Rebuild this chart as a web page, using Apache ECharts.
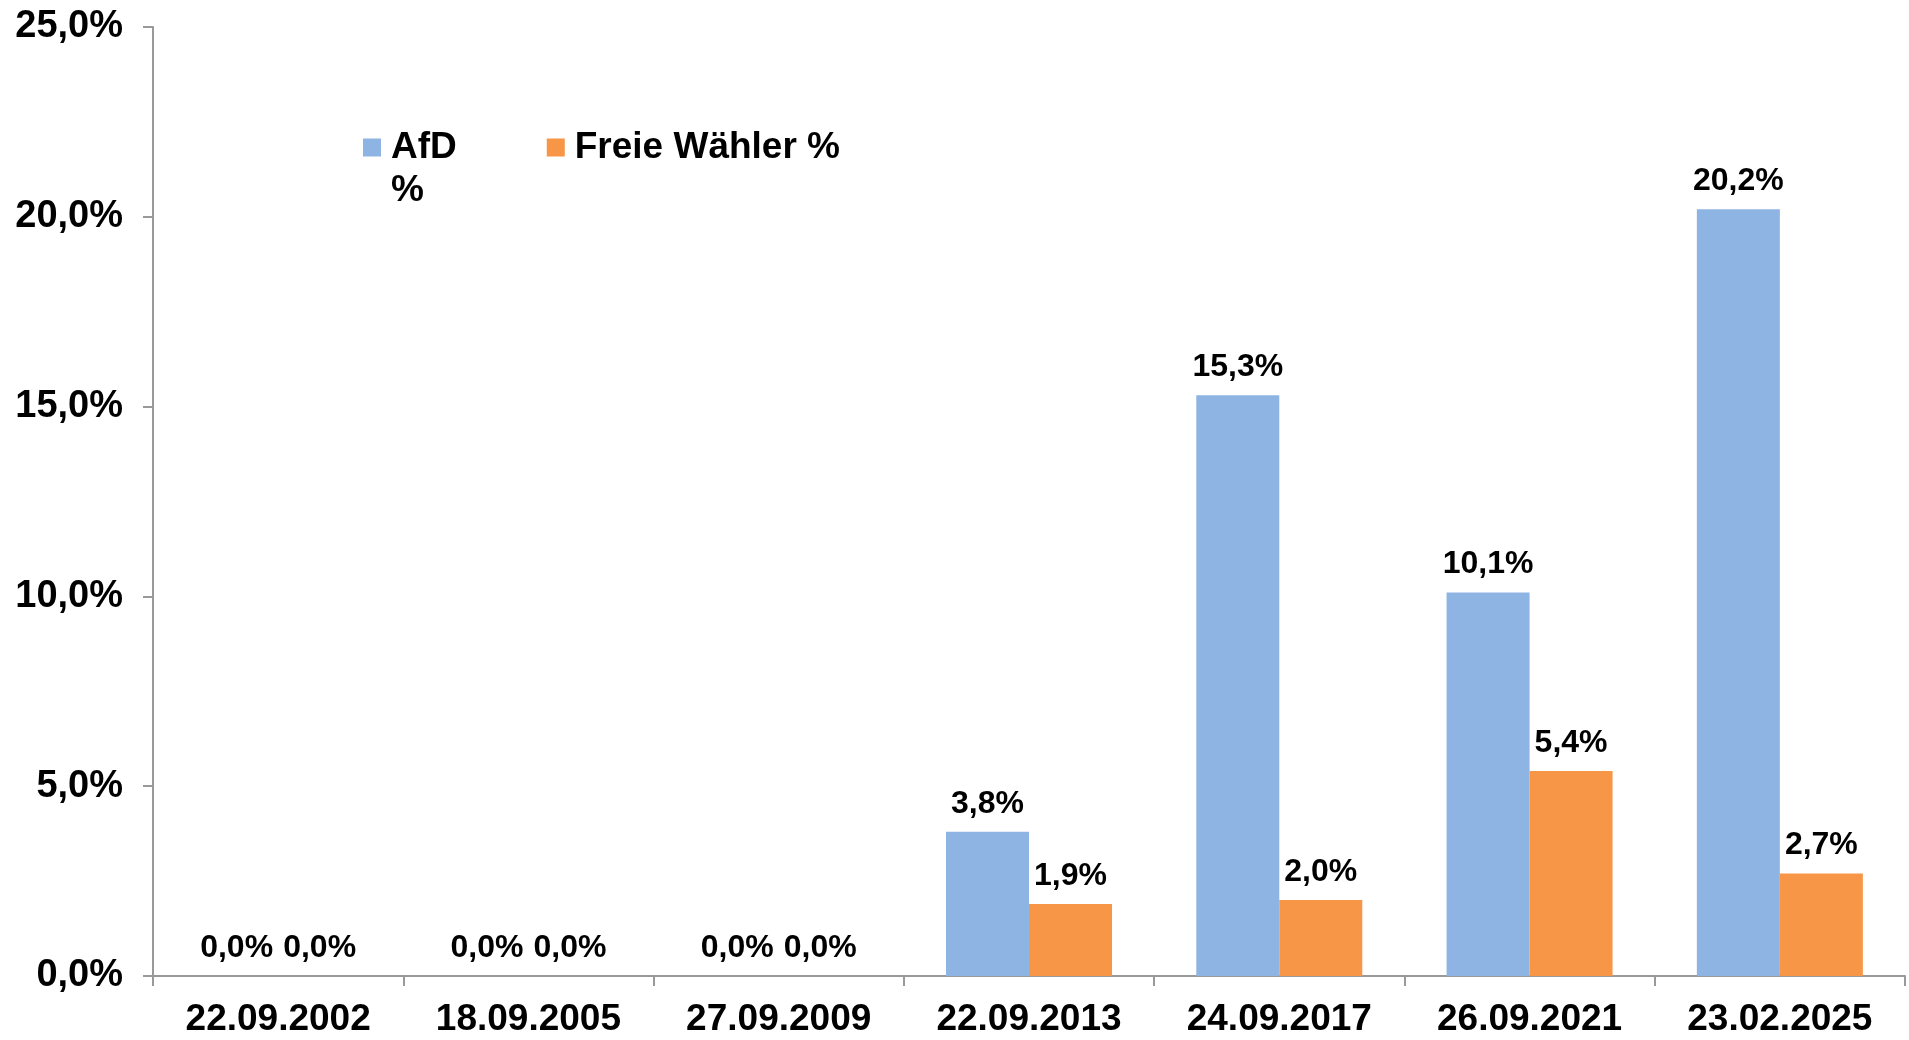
<!DOCTYPE html>
<html>
<head>
<meta charset="utf-8">
<script src="https://cdn.jsdelivr.net/npm/echarts@6/dist/echarts.min.js"></script>
<style>
html, body { margin: 0; padding: 0; background: #fff; }
#chart { width: 1909px; height: 1040px; }
</style>
</head>
<body>
<div id="chart"></div>
<script>
var categories = ['22.09.2002', '18.09.2005', '27.09.2009', '22.09.2013', '24.09.2017', '26.09.2021', '23.02.2025'];
var afd = [0, 0, 0, 3.8, 15.3, 10.1, 20.2];
var freieWaehler = [0, 0, 0, 1.9, 2.0, 5.4, 2.7];

var chart = echarts.init(document.getElementById('chart'));

// Komma als Dezimaltrenner
function pct(v) {
    return v.toFixed(1).replace('.', ',') + '%';
}

var font = 'Liberation Sans, Arial, sans-serif';

// Quadrat oben, unsichtbare Linie unten -> Symbol sitzt auf Hoehe der ersten Textzeile
var legendIcon = 'path://M0,0h18v18h-18z M0,61h23z';

var option = {
    animation: false,
    grid: {left: 153, right: 4, top: 27, bottom: 64},
    legend: {
        left: 358,
        top: 121,
        itemWidth: 23,
        itemHeight: 61,
        itemGap: 90,
        icon: legendIcon,
        textStyle: {fontFamily: font, fontWeight: 'bold', fontSize: 37, color: '#000', lineHeight: 43},
        formatter: function (name) {
            return name === 'AfD %' ? 'AfD\n%' : name + '\n ';
        }
    },
    xAxis: {
        type: 'category',
        data: categories,
        axisLine: {lineStyle: {color: '#999', width: 2}},
        axisTick: {show: true, length: 10, lineStyle: {color: '#999', width: 2}},
        axisLabel: {fontFamily: font, fontWeight: 'bold', fontSize: 37, color: '#000', margin: 25}
    },
    yAxis: {
        type: 'value',
        min: 0,
        max: 25,
        interval: 5,
        splitLine: {show: false},
        axisLine: {show: true, lineStyle: {color: '#999', width: 2}},
        axisTick: {show: true, length: 10, lineStyle: {color: '#999', width: 2}},
        axisLabel: {
            fontFamily: font, fontWeight: 'bold', fontSize: 38, color: '#000', margin: 30,
            formatter: function (v) { return pct(v); }
        }
    },
    series: [
        {
            name: 'AfD %',
            type: 'bar',
            data: afd,
            barWidth: 83,
            barGap: '0%',
            itemStyle: {color: '#8EB4E3'},
            label: {
                show: true, position: 'top', distance: 12,
                fontFamily: font, fontWeight: 'bold', fontSize: 32, color: '#000',
                formatter: function (p) { return pct(p.value); }
            }
        },
        {
            name: 'Freie Wähler %',
            type: 'bar',
            data: freieWaehler,
            barWidth: 83,
            barGap: '0%',
            itemStyle: {color: '#F79646'},
            label: {
                show: true, position: 'top', distance: 12,
                fontFamily: font, fontWeight: 'bold', fontSize: 32, color: '#000',
                formatter: function (p) { return pct(p.value); }
            }
        }
    ]
};

chart.setOption(option);
</script>
</body>
</html>
